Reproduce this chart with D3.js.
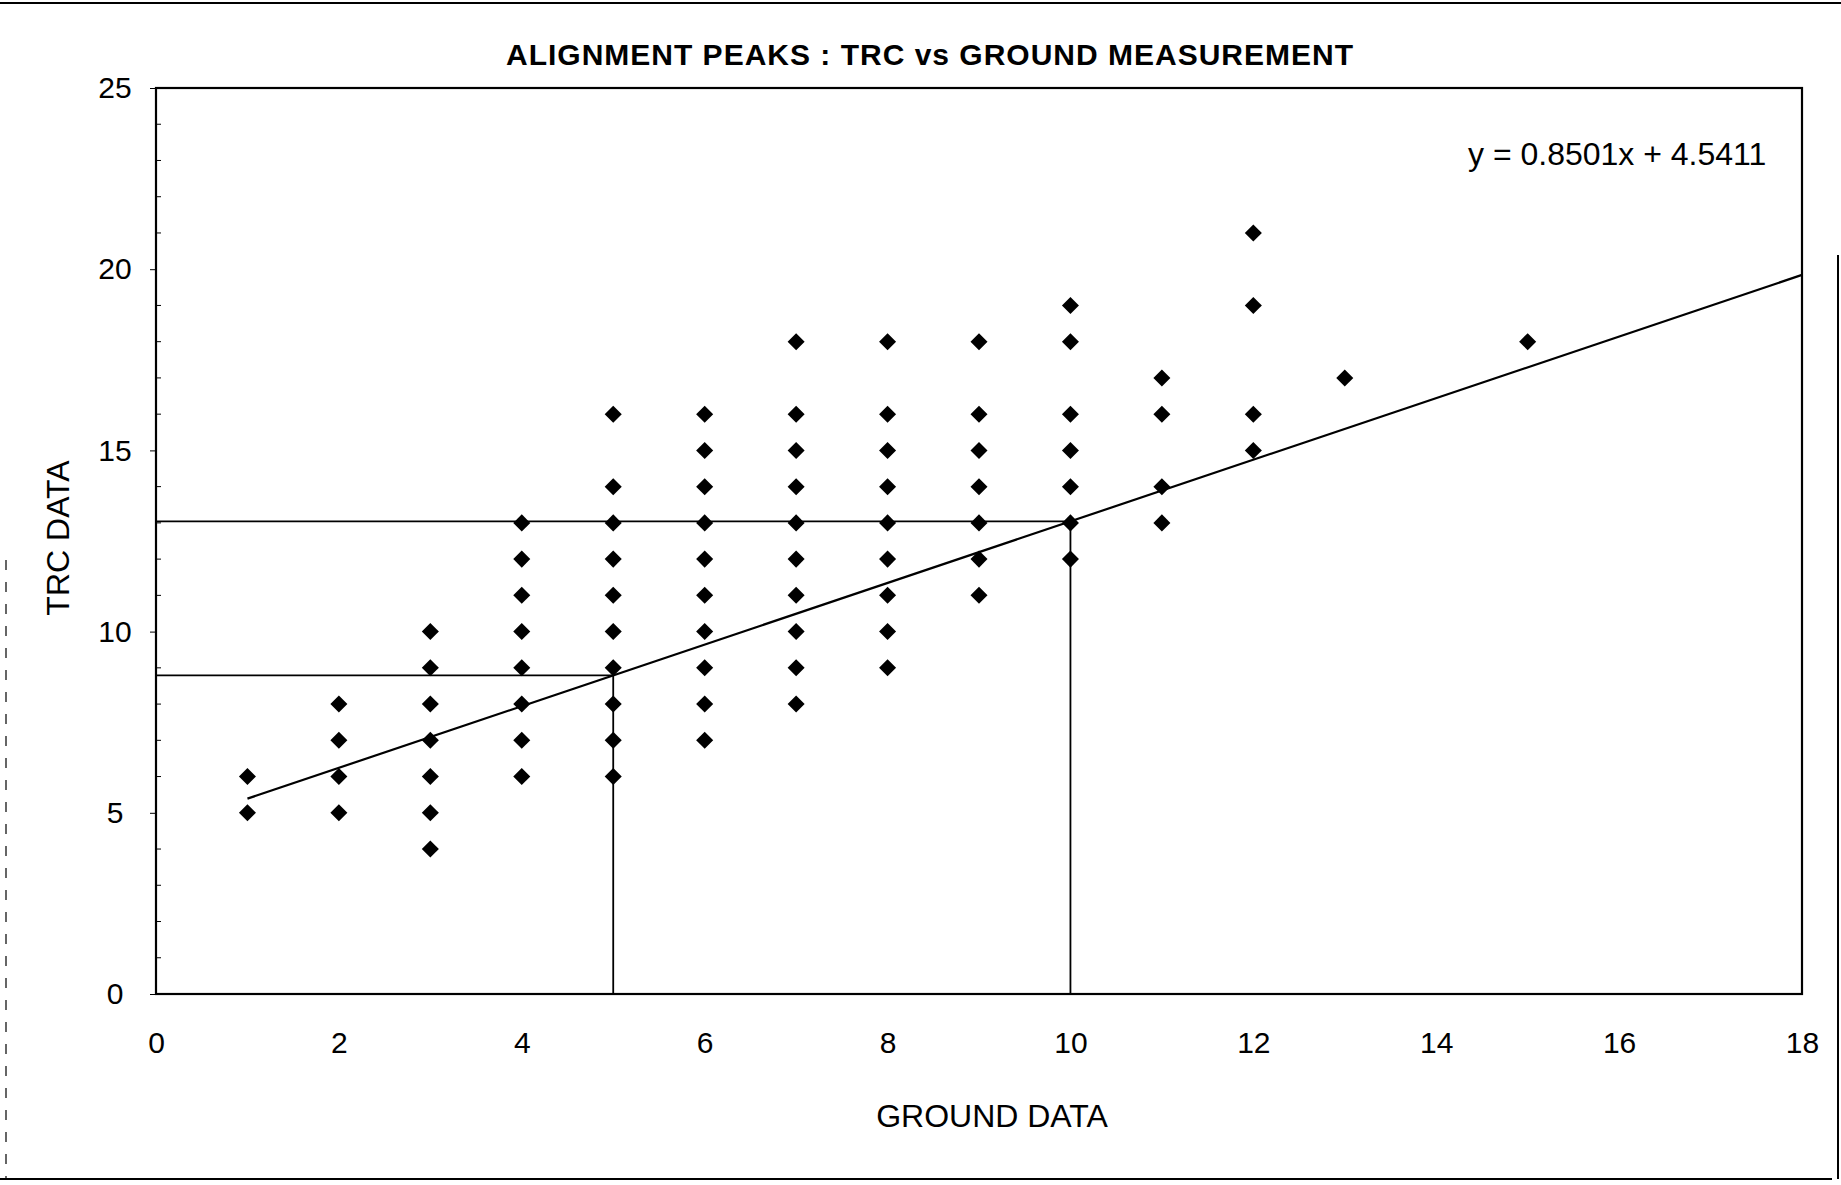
<!DOCTYPE html>
<html>
<head>
<meta charset="utf-8">
<script src="https://cdn.jsdelivr.net/npm/d3@7"></script>
<style>
  html, body { margin: 0; padding: 0; background: #fff; }
  svg { display: block; font-family: "Liberation Sans", Arial, sans-serif; }
</style>
</head>
<body>
<svg id="chart" width="1841" height="1185"></svg>
<script>
// ground value of each column and the TRC values read at that column
var groundCols = [1, 2, 3, 4, 5, 6, 7, 8, 9, 10, 11, 12, 13, 15]
var trcCols = [
    [5, 6],
    [5, 6, 7, 8],
    [4, 5, 6, 7, 8, 9, 10],
    [6, 7, 8, 9, 10, 11, 12, 13],
    [6, 7, 8, 9, 10, 11, 12, 13, 14, 16],
    [7, 8, 9, 10, 11, 12, 13, 14, 15, 16],
    [8, 9, 10, 11, 12, 13, 14, 15, 16, 18],
    [9, 10, 11, 12, 13, 14, 15, 16, 18],
    [11, 12, 13, 14, 15, 16, 18],
    [12, 13, 14, 15, 16, 18, 19],
    [13, 14, 16, 17],
    [15, 16, 19, 21],
    [17],
    [18]
]
var xTicks = [0, 2, 4, 6, 8, 10, 12, 14, 16, 18]
var yTicks = [0, 5, 10, 15, 20, 25]
var trendSlope = 0.8501
var trendIntercept = 4.5411
var trendRange = [1, 18]
var guideX = [5, 10]

var points = []
groundCols.forEach((g, i) => trcCols[i].forEach(t => points.push({ x: g, y: t })))

var svg = d3.select("#chart")
var plot = { left: 156, right: 1802, top: 88, bottom: 994 }

var xScale = d3.scaleLinear().domain([0, 18]).range([plot.left, plot.right])
var yScale = d3.scaleLinear().domain([0, 25]).range([plot.bottom, plot.top])
var trend = x => trendSlope * x + trendIntercept

// outer frame of the chart sheet
svg.append("line").attr("x1", 0).attr("x2", 1841).attr("y1", 3).attr("y2", 3).attr("stroke", "#000").attr("stroke-width", 2)
svg.append("line").attr("x1", 0).attr("x2", 1832).attr("y1", 1179).attr("y2", 1179).attr("stroke", "#000").attr("stroke-width", 2)
svg.append("line").attr("x1", 6).attr("x2", 6).attr("y1", 560).attr("y2", 1179).attr("stroke", "#000").attr("stroke-width", 1.2).attr("stroke-dasharray", "10,12")
svg.append("line").attr("x1", 1838).attr("x2", 1838).attr("y1", 255).attr("y2", 1179).attr("stroke", "#000").attr("stroke-width", 2)

// title
svg.append("text").attr("x", 930).attr("y", 65).attr("text-anchor", "middle")
    .attr("font-size", 30).attr("font-weight", "bold").attr("letter-spacing", 1)
    .text("ALIGNMENT PEAKS : TRC vs GROUND MEASUREMENT")

// axes
var xAxis = svg.append("g").attr("transform", "translate(0," + plot.bottom + ")")
    .call(d3.axisBottom(xScale).tickValues(xTicks).tickSize(0).tickPadding(38).tickFormat(d3.format("d")))
var yAxis = svg.append("g").attr("transform", "translate(" + plot.left + ",0)")
    .call(d3.axisLeft(yScale).tickValues(yTicks).tickSize(6).tickPadding(16).tickFormat(d3.format("d")))
yAxis.selectAll(".minor").data(d3.range(1, 25).filter(v => v % 5 != 0)).join("line").attr("class", "minor")
    .attr("x1", 0).attr("x2", 5).attr("y1", d => yScale(d)).attr("y2", d => yScale(d)).attr("stroke", "#000")
xAxis.selectAll("text").attr("font-size", 30).attr("fill", "#000").attr("font-family", "Liberation Sans, Arial, sans-serif")
yAxis.selectAll("text").attr("font-size", 30).attr("fill", "#000").attr("font-family", "Liberation Sans, Arial, sans-serif")
    .attr("text-anchor", "middle").attr("x", 115 - plot.left)
xAxis.select(".domain").remove()
yAxis.select(".domain").remove()

// plot area border
svg.append("rect").attr("x", plot.left).attr("y", plot.top)
    .attr("width", plot.right - plot.left).attr("height", plot.bottom - plot.top)
    .attr("fill", "none").attr("stroke", "#000").attr("stroke-width", 2.2)

// axis titles
svg.append("text").attr("x", 992).attr("y", 1119).attr("text-anchor", "middle").attr("dominant-baseline", "middle")
    .attr("font-size", 32).text("GROUND DATA")
svg.append("text").attr("text-anchor", "middle").attr("dominant-baseline", "middle")
    .attr("transform", "translate(61,538) rotate(-90)").attr("font-size", 32).text("TRC DATA")

// read-off guides from the trendline down to the x axis and across to the y axis
guideX.forEach(g => {
    svg.append("line").attr("x1", xScale(0)).attr("x2", xScale(g)).attr("y1", yScale(trend(g))).attr("y2", yScale(trend(g)))
        .attr("stroke", "#000").attr("stroke-width", 1.8)
    svg.append("line").attr("x1", xScale(g)).attr("x2", xScale(g)).attr("y1", yScale(trend(g))).attr("y2", yScale(0))
        .attr("stroke", "#000").attr("stroke-width", 1.8)
})

// linear trendline
svg.append("path").datum(trendRange)
    .attr("d", d3.line().x(d => xScale(d)).y(d => yScale(trend(d))))
    .attr("stroke", "#000").attr("stroke-width", 2.2).attr("fill", "none")

// diamond markers
var diamond = d3.symbol().type(d3.symbolSquare).size(145)
svg.selectAll(".pt").data(points).join("path").attr("class", "pt")
    .attr("d", diamond)
    .attr("transform", d => "translate(" + xScale(d.x) + "," + yScale(d.y) + ") rotate(45)")
    .attr("fill", "#000")

// trendline equation
svg.append("text").attr("x", 1468).attr("y", 165).attr("font-size", 32)
    .text("y = " + trendSlope + "x + " + trendIntercept)
</script>
</body>
</html>
